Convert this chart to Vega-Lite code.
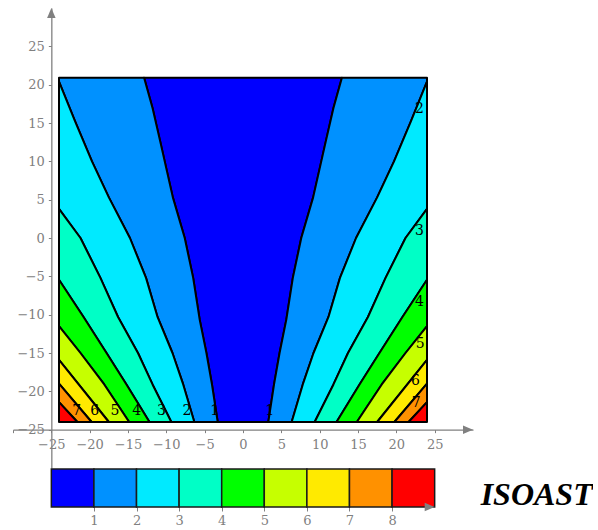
{
  "$schema": "https://vega.github.io/schema/vega-lite/v6.json",
  "padding": {"left": 12, "top": 8, "right": 0, "bottom": 0},
  "spacing": 0,
  "config": {"view": {"stroke": null}, "axis": {"grid": false}},
  "datasets": {
    "bands": [
      {"p":"b","l":0,"x":-3.3,"y":-24},{"p":"b","l":0,"x":-4.05,"y":-19.1},{"p":"b","l":0,"x":-4.77,"y":-15},{"p":"b","l":0,"x":-5.65,"y":-10.65},{"p":"b","l":0,"x":-6.5,"y":-5.2},{"p":"b","l":0,"x":-7.6,"y":0},{"p":"b","l":0,"x":-9.15,"y":5.3},{"p":"b","l":0,"x":-10.8,"y":12.6},{"p":"b","l":0,"x":-11.8,"y":16.95},{"p":"b","l":0,"x":-12.9,"y":20.9},
      {"p":"b","l":0,"x":12.9,"y":20.9},{"p":"b","l":0,"x":11.8,"y":16.95},{"p":"b","l":0,"x":10.8,"y":12.6},{"p":"b","l":0,"x":9.15,"y":5.3},{"p":"b","l":0,"x":7.6,"y":0},{"p":"b","l":0,"x":6.5,"y":-5.2},{"p":"b","l":0,"x":5.65,"y":-10.65},{"p":"b","l":0,"x":4.77,"y":-15},{"p":"b","l":0,"x":4.05,"y":-19.1},{"p":"b","l":0,"x":3.3,"y":-24},

      {"p":"R1","l":1,"x":3.3,"y":-24},{"p":"R1","l":1,"x":4.05,"y":-19.1},{"p":"R1","l":1,"x":4.77,"y":-15},{"p":"R1","l":1,"x":5.65,"y":-10.65},{"p":"R1","l":1,"x":6.5,"y":-5.2},{"p":"R1","l":1,"x":7.6,"y":0},{"p":"R1","l":1,"x":9.15,"y":5.3},{"p":"R1","l":1,"x":10.8,"y":12.6},{"p":"R1","l":1,"x":11.8,"y":16.95},{"p":"R1","l":1,"x":12.9,"y":20.9},{"p":"R1","l":1,"x":24,"y":20.9},{"p":"R1","l":1,"x":24,"y":20.4},{"p":"R1","l":1,"x":21.9,"y":15.2},{"p":"R1","l":1,"x":19.7,"y":10},{"p":"R1","l":1,"x":17.5,"y":5.3},{"p":"R1","l":1,"x":14.75,"y":0},{"p":"R1","l":1,"x":12.65,"y":-5.2},{"p":"R1","l":1,"x":11.15,"y":-10.3},{"p":"R1","l":1,"x":9.2,"y":-15},{"p":"R1","l":1,"x":7.8,"y":-19.1},{"p":"R1","l":1,"x":6.35,"y":-24},
      {"p":"L1","l":1,"x":-3.3,"y":-24},{"p":"L1","l":1,"x":-4.05,"y":-19.1},{"p":"L1","l":1,"x":-4.77,"y":-15},{"p":"L1","l":1,"x":-5.65,"y":-10.65},{"p":"L1","l":1,"x":-6.5,"y":-5.2},{"p":"L1","l":1,"x":-7.6,"y":0},{"p":"L1","l":1,"x":-9.15,"y":5.3},{"p":"L1","l":1,"x":-10.8,"y":12.6},{"p":"L1","l":1,"x":-11.8,"y":16.95},{"p":"L1","l":1,"x":-12.9,"y":20.9},{"p":"L1","l":1,"x":-24,"y":20.9},{"p":"L1","l":1,"x":-24,"y":20.4},{"p":"L1","l":1,"x":-21.9,"y":15.2},{"p":"L1","l":1,"x":-19.7,"y":10},{"p":"L1","l":1,"x":-17.5,"y":5.3},{"p":"L1","l":1,"x":-14.75,"y":0},{"p":"L1","l":1,"x":-12.65,"y":-5.2},{"p":"L1","l":1,"x":-11.15,"y":-10.3},{"p":"L1","l":1,"x":-9.2,"y":-15},{"p":"L1","l":1,"x":-7.8,"y":-19.1},{"p":"L1","l":1,"x":-6.35,"y":-24},

      {"p":"R2","l":2,"x":6.35,"y":-24},{"p":"R2","l":2,"x":7.8,"y":-19.1},{"p":"R2","l":2,"x":9.2,"y":-15},{"p":"R2","l":2,"x":11.15,"y":-10.3},{"p":"R2","l":2,"x":12.65,"y":-5.2},{"p":"R2","l":2,"x":14.75,"y":0},{"p":"R2","l":2,"x":17.5,"y":5.3},{"p":"R2","l":2,"x":19.7,"y":10},{"p":"R2","l":2,"x":21.9,"y":15.2},{"p":"R2","l":2,"x":24,"y":20.4},{"p":"R2","l":2,"x":24,"y":3.8},{"p":"R2","l":2,"x":21.2,"y":0},{"p":"R2","l":2,"x":18.6,"y":-5.2},{"p":"R2","l":2,"x":16.3,"y":-10.3},{"p":"R2","l":2,"x":13.7,"y":-15},{"p":"R2","l":2,"x":11.8,"y":-19.1},{"p":"R2","l":2,"x":9.35,"y":-24},
      {"p":"L2","l":2,"x":-6.35,"y":-24},{"p":"L2","l":2,"x":-7.8,"y":-19.1},{"p":"L2","l":2,"x":-9.2,"y":-15},{"p":"L2","l":2,"x":-11.15,"y":-10.3},{"p":"L2","l":2,"x":-12.65,"y":-5.2},{"p":"L2","l":2,"x":-14.75,"y":0},{"p":"L2","l":2,"x":-17.5,"y":5.3},{"p":"L2","l":2,"x":-19.7,"y":10},{"p":"L2","l":2,"x":-21.9,"y":15.2},{"p":"L2","l":2,"x":-24,"y":20.4},{"p":"L2","l":2,"x":-24,"y":3.8},{"p":"L2","l":2,"x":-21.2,"y":0},{"p":"L2","l":2,"x":-18.6,"y":-5.2},{"p":"L2","l":2,"x":-16.3,"y":-10.3},{"p":"L2","l":2,"x":-13.7,"y":-15},{"p":"L2","l":2,"x":-11.8,"y":-19.1},{"p":"L2","l":2,"x":-9.35,"y":-24},

      {"p":"R3","l":3,"x":9.35,"y":-24},{"p":"R3","l":3,"x":11.8,"y":-19.1},{"p":"R3","l":3,"x":13.7,"y":-15},{"p":"R3","l":3,"x":16.3,"y":-10.3},{"p":"R3","l":3,"x":18.6,"y":-5.2},{"p":"R3","l":3,"x":21.2,"y":0},{"p":"R3","l":3,"x":24,"y":3.8},{"p":"R3","l":3,"x":24,"y":-5.45},{"p":"R3","l":3,"x":20.8,"y":-10.3},{"p":"R3","l":3,"x":17.8,"y":-15},{"p":"R3","l":3,"x":15.2,"y":-19.1},{"p":"R3","l":3,"x":12.2,"y":-24},
      {"p":"L3","l":3,"x":-9.35,"y":-24},{"p":"L3","l":3,"x":-11.8,"y":-19.1},{"p":"L3","l":3,"x":-13.7,"y":-15},{"p":"L3","l":3,"x":-16.3,"y":-10.3},{"p":"L3","l":3,"x":-18.6,"y":-5.2},{"p":"L3","l":3,"x":-21.2,"y":0},{"p":"L3","l":3,"x":-24,"y":3.8},{"p":"L3","l":3,"x":-24,"y":-5.45},{"p":"L3","l":3,"x":-20.8,"y":-10.3},{"p":"L3","l":3,"x":-17.8,"y":-15},{"p":"L3","l":3,"x":-15.2,"y":-19.1},{"p":"L3","l":3,"x":-12.2,"y":-24},

      {"p":"R4","l":4,"x":12.2,"y":-24},{"p":"R4","l":4,"x":15.2,"y":-19.1},{"p":"R4","l":4,"x":17.8,"y":-15},{"p":"R4","l":4,"x":20.8,"y":-10.3},{"p":"R4","l":4,"x":24,"y":-5.45},{"p":"R4","l":4,"x":24,"y":-11.5},{"p":"R4","l":4,"x":21.2,"y":-15},{"p":"R4","l":4,"x":18.1,"y":-19.1},{"p":"R4","l":4,"x":14.85,"y":-24},
      {"p":"L4","l":4,"x":-12.2,"y":-24},{"p":"L4","l":4,"x":-15.2,"y":-19.1},{"p":"L4","l":4,"x":-17.8,"y":-15},{"p":"L4","l":4,"x":-20.8,"y":-10.3},{"p":"L4","l":4,"x":-24,"y":-5.45},{"p":"L4","l":4,"x":-24,"y":-11.5},{"p":"L4","l":4,"x":-21.2,"y":-15},{"p":"L4","l":4,"x":-18.1,"y":-19.1},{"p":"L4","l":4,"x":-14.85,"y":-24},

      {"p":"R5","l":5,"x":14.85,"y":-24},{"p":"R5","l":5,"x":18.1,"y":-19.1},{"p":"R5","l":5,"x":21.2,"y":-15},{"p":"R5","l":5,"x":24,"y":-11.5},{"p":"R5","l":5,"x":24,"y":-15.9},{"p":"R5","l":5,"x":17.5,"y":-24},
      {"p":"L5","l":5,"x":-14.85,"y":-24},{"p":"L5","l":5,"x":-18.1,"y":-19.1},{"p":"L5","l":5,"x":-21.2,"y":-15},{"p":"L5","l":5,"x":-24,"y":-11.5},{"p":"L5","l":5,"x":-24,"y":-15.9},{"p":"L5","l":5,"x":-17.5,"y":-24},

      {"p":"R6","l":6,"x":17.5,"y":-24},{"p":"R6","l":6,"x":24,"y":-15.9},{"p":"R6","l":6,"x":24,"y":-19},{"p":"R6","l":6,"x":19.75,"y":-24},
      {"p":"L6","l":6,"x":-17.5,"y":-24},{"p":"L6","l":6,"x":-24,"y":-15.9},{"p":"L6","l":6,"x":-24,"y":-19},{"p":"L6","l":6,"x":-19.75,"y":-24},

      {"p":"R7","l":7,"x":19.75,"y":-24},{"p":"R7","l":7,"x":24,"y":-19},{"p":"R7","l":7,"x":24,"y":-21.4},{"p":"R7","l":7,"x":21.6,"y":-24},
      {"p":"L7","l":7,"x":-19.75,"y":-24},{"p":"L7","l":7,"x":-24,"y":-19},{"p":"L7","l":7,"x":-24,"y":-21.4},{"p":"L7","l":7,"x":-21.6,"y":-24},

      {"p":"R8","l":8,"x":21.6,"y":-24},{"p":"R8","l":8,"x":24,"y":-21.4},{"p":"R8","l":8,"x":24,"y":-24},
      {"p":"L8","l":8,"x":-21.6,"y":-24},{"p":"L8","l":8,"x":-24,"y":-21.4},{"p":"L8","l":8,"x":-24,"y":-24}
    ],
    "labs": [
      {"t":"7","x":-21.7,"y":-22.5},{"t":"6","x":-19.35,"y":-22.5},{"t":"5","x":-16.7,"y":-22.5},{"t":"4","x":-13.85,"y":-22.5},{"t":"3","x":-10.65,"y":-22.5},{"t":"2","x":-7.3,"y":-22.5},{"t":"1","x":-3.7,"y":-22.5},{"t":"1","x":3.47,"y":-22.5},
      {"t":"2","x":23.0,"y":16.8},{"t":"3","x":23.0,"y":0.95},{"t":"4","x":23.0,"y":-8.3},{"t":"5","x":23.1,"y":-13.8},{"t":"6","x":22.5,"y":-18.7},{"t":"7","x":22.6,"y":-21.5}
    ],
    "arrows": [
      {"d":"r","x":30,"y":-25},{"d":"u","x":-25,"y":30}
    ],
    "cbar": [
      {"l":0,"lo":0,"hi":1},{"l":1,"lo":1,"hi":2},{"l":2,"lo":2,"hi":3},{"l":3,"lo":3,"hi":4},{"l":4,"lo":4,"hi":5},{"l":5,"lo":5,"hi":6},{"l":6,"lo":6,"hi":7},{"l":7,"lo":7,"hi":8},{"l":8,"lo":8,"hi":9}
    ],
    "name": [
      {"t":"ISOAST"}
    ]
  },
  "vconcat": [
    {
      "width": 460,
      "height": 460,
      "encoding": {
        "x": {"field": "x", "type": "quantitative",
              "scale": {"domain": [-30, 30], "nice": false, "zero": false},
              "axis": {"orient": "bottom", "offset": -38.33, "title": null, "values": [-30,-25,-20,-15,-10,-5,0,5,10,15,20,25],
                       "labelExpr": "datum.value == -30 ? '' : datum.label", "labelFlush": false, "labelOverlap": false,
                       "domainColor": "#808080", "domainWidth": 1.3, "tickColor": "#808080", "tickSize": 3, "labelPadding": 6,
                       "labelColor": "#808080", "labelFont": "DejaVu Serif", "labelFontSize": 13}},
        "y": {"field": "y", "type": "quantitative",
              "scale": {"domain": [-30, 30], "nice": false, "zero": false},
              "axis": {"orient": "left", "offset": -38.33, "title": null, "values": [-25,-20,-15,-10,-5,0,5,10,15,20,25],
                       "labelFlush": false, "labelOverlap": false,
                       "domainColor": "#808080", "domainWidth": 1.3, "tickColor": "#808080", "tickSize": 3, "labelPadding": 4,
                       "labelColor": "#808080", "labelFont": "DejaVu Serif", "labelFontSize": 13}}
      },
      "layer": [
        {
          "data": {"name": "bands"},
          "mark": {"type": "line", "interpolate": "linear-closed", "stroke": "black", "strokeWidth": 2, "strokeJoin": "round"},
          "encoding": {
            "fill": {"field": "l", "type": "ordinal", "legend": null,
                     "scale": {"domain": [0,1,2,3,4,5,6,7,8], "range": ["#0000FF","#0091FF","#00EAFF","#00FFC6","#00FF00","#C6FF00","#FFEA00","#FF9100","#FF0000"]}},
            "detail": {"field": "p"},
            "order": {"value": null}
          }
        },
        {
          "data": {"name": "labs"},
          "mark": {"type": "text", "font": "DejaVu Serif", "fontSize": 14, "color": "black", "align": "center", "baseline": "middle"},
          "encoding": {"text": {"field": "t"}}
        },
        {
          "data": {"name": "arrows"},
          "mark": {"type": "point", "filled": true, "color": "#808080", "opacity": 1, "size": 100},
          "encoding": {"shape": {"field": "d", "type": "nominal", "legend": null,
                                 "scale": {"domain": ["r","u"], "range": ["M0,0L-2,-0.85L-2,0.85Z", "M0,0L-0.85,2L0.85,2Z"]}}}
        }
      ]
    },
    {
      "width": 460,
      "height": 38,
      "layer": [
        {
          "data": {"name": "cbar"},
          "mark": {"type": "rect", "stroke": "#1a1a1a", "strokeWidth": 1.5},
          "encoding": {
            "x": {"field": "lo", "type": "quantitative", "scale": {"domain": [-0.9, 9.9], "nice": false, "zero": false},
                  "axis": {"title": null, "values": [1,2,3,4,5,6,7,8], "domain": false, "tickColor": "#808080", "tickSize": 4,
                           "labelPadding": 3, "labelColor": "#808080", "labelFont": "DejaVu Serif", "labelFontSize": 13, "labelFlush": false}},
            "x2": {"field": "hi"},
            "y": {"datum": 0, "type": "quantitative", "scale": {"domain": [0, 1], "nice": false}, "axis": null},
            "y2": {"datum": 1},
            "fill": {"field": "l", "type": "ordinal", "legend": null,
                     "scale": {"domain": [0,1,2,3,4,5,6,7,8], "range": ["#0000FF","#0091FF","#00EAFF","#00FFC6","#00FF00","#C6FF00","#FFEA00","#FF9100","#FF0000"]}}
          }
        },
        {
          "data": {"name": "cbar"},
          "transform": [{"filter": "datum.l == 8"}],
          "mark": {"type": "point", "filled": true, "color": "#808080", "opacity": 1, "size": 100, "shape": "M0,0L-2,-0.85L-2,0.85Z"},
          "encoding": {
            "x": {"field": "hi", "type": "quantitative"},
            "y": {"datum": 0, "type": "quantitative"}
          }
        },
        {
          "data": {"name": "name"},
          "mark": {"type": "text", "align": "left", "baseline": "middle", "font": "Liberation Serif", "fontSize": 32,
                   "fontStyle": "italic", "fontWeight": "bold", "color": "black"},
          "encoding": {
            "text": {"field": "t"},
            "x": {"datum": 10.08, "type": "quantitative"},
            "y": {"datum": 0.32, "type": "quantitative"}
          }
        }
      ]
    }
  ]
}
